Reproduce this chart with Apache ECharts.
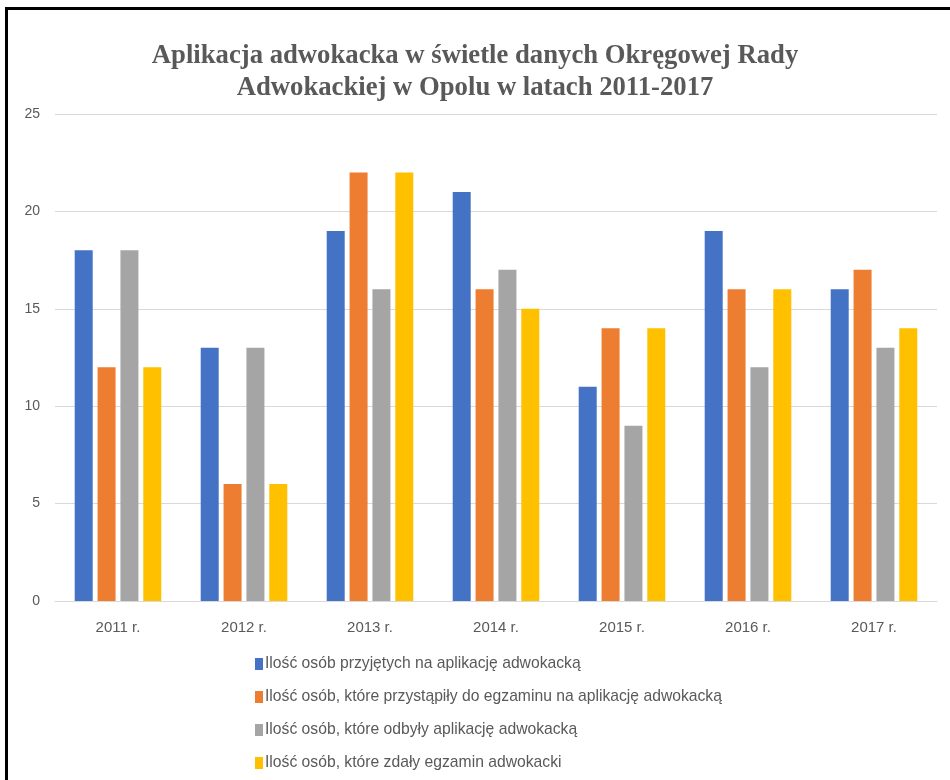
<!DOCTYPE html>
<html>
<head>
<meta charset="utf-8">
<script src="https://cdn.jsdelivr.net/npm/echarts@6/dist/echarts.min.js"></script>
<style>
html,body{margin:0;padding:0;background:#fff;}
#frame{position:absolute;left:5px;top:7px;width:960px;height:790px;border-left:3px solid #000;border-top:3px solid #000;box-sizing:border-box;}
#chart{position:absolute;left:0;top:0;width:950px;height:780px;}
</style>
</head>
<body>
<div id="frame"></div>
<div id="chart"></div>
<script>
const titleLines = ["Aplikacja adwokacka w świetle danych Okręgowej Rady", "Adwokackiej w Opolu w latach 2011-2017"];
const categories = ["2011 r.", "2012 r.", "2013 r.", "2014 r.", "2015 r.", "2016 r.", "2017 r."];
const seriesNames = [
  "Ilość osób przyjętych na aplikację adwokacką",
  "Ilość osób, które przystąpiły do egzaminu na aplikację adwokacką",
  "Ilość osób, które odbyły aplikację adwokacką",
  "Ilość osób, które zdały egzamin adwokacki"
];
const przyjeci = [18, 13, 19, 21, 11, 19, 16];
const przystapili = [12, 6, 22, 16, 14, 16, 17];
const odbyli = [18, 13, 16, 17, 9, 12, 13];
const zdali = [12, 6, 22, 15, 14, 16, 14];
const colors = ["#4472C4", "#ED7D31", "#A5A5A5", "#FFC000"];
const values = [przyjeci, przystapili, odbyli, zdali];

const chart = echarts.init(document.getElementById('chart'));
const sans = "'Liberation Sans', Arial, sans-serif";
chart.setOption({
  animation: false,
  backgroundColor: 'transparent',
  color: colors,
  title: {
    text: titleLines.join('\n'),
    left: 'center',
    top: 35,
    padding: [5, 0, 5, 10],
    textStyle: {
      fontFamily: "'Liberation Serif', 'Times New Roman', serif",
      fontWeight: 'bold',
      fontSize: 26.7,
      color: '#595959',
      lineHeight: 32
    }
  },
  legend: {
    orient: 'vertical',
    left: 250,
    top: 650,
    height: 200,
    itemWidth: 8,
    itemHeight: 12,
    itemGap: 15,
    icon: 'rect',
    textStyle: {fontFamily: sans, fontSize: 15.7, color: '#595959', padding: [0,0,0,-3], lineHeight: 18},
    data: seriesNames
  },
  grid: {left: 55, right: 13, top: 114, bottom: 179, containLabel: false},
  xAxis: {
    type: 'category',
    data: categories,
    axisTick: {show: false},
    axisLine: {lineStyle: {color: '#D9D9D9'}},
    axisLabel: {fontFamily: sans, fontSize: 15, color: '#595959', margin: 19}
  },
  yAxis: {
    type: 'value',
    min: 0, max: 25, interval: 5,
    axisLine: {show: false},
    axisTick: {show: false},
    splitLine: {lineStyle: {color: '#D9D9D9'}},
    axisLabel: {fontFamily: sans, fontSize: 14, color: '#595959', margin: 15}
  },
  series: values.map((v, i) => ({
    name: seriesNames[i],
    type: 'bar',
    data: v,
    barWidth: 18,
    barGap: '27%',
    itemStyle: {color: colors[i]}
  }))
});
</script>
</body>
</html>
